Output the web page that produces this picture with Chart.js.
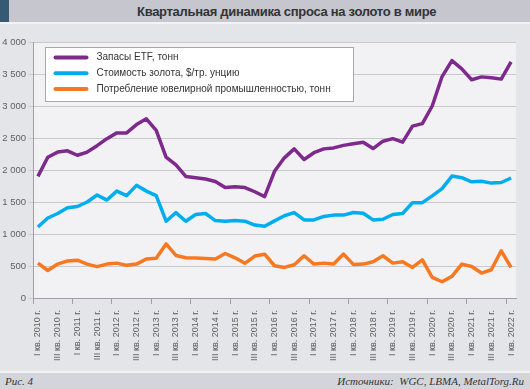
<!DOCTYPE html>
<html>
<head>
<meta charset="utf-8">
<script src="https://cdn.jsdelivr.net/npm/chart.js@4.4.1/dist/chart.umd.min.js"></script>
<style>
  html, body { margin: 0; padding: 0; }
  body { width: 530px; height: 389px; background: #e4e5e9; position: relative; overflow: hidden; font-family: "Liberation Sans", Arial, sans-serif; }
  #head { position: absolute; left: 0; top: 0; width: 530px; height: 22px; background: #c5c6ce; border-bottom: 2px solid #f3f3f5; }
  #head .mark { position: absolute; left: 0; top: 0; width: 9px; height: 22px; background: #365a74; }
  #head .title { position: absolute; left: 137px; top: 4px; font-size: 13px; font-weight: bold; letter-spacing: -0.3px; line-height: 15px; color: #333333; white-space: nowrap; }
  #foot { position: absolute; left: 0; top: 371px; width: 530px; height: 16px; background: #d4d5db; border-top: 2px solid #f3f3f5; font-family: "Liberation Serif", "Times New Roman", serif; font-style: italic; font-size: 11px; color: #333; }
  #foot .left { position: absolute; left: 5px; top: 2px; }
  #foot .right { position: absolute; right: 6px; top: 2px; white-space: nowrap; }
  #chart { position: absolute; left: 0; top: 24px; }
</style>
</head>
<body>
<div id="head"><div class="mark"></div><div class="title">Квартальная динамика спроса на золото в мире</div></div>
<canvas id="chart" width="530" height="347"></canvas>
<div id="foot"><span class="left">Рис. 4</span><span class="right">Источники:&nbsp; WGC, LBMA, MetalTorg.Ru</span></div>
<script>
// Quarters from I 2010 to I 2022
var quarters = [
  'I кв. 2010 г.', 'II кв. 2010 г.', 'III кв. 2010 г.', 'IV кв. 2010 г.',
  'I кв. 2011 г.', 'II кв. 2011 г.', 'III кв. 2011 г.', 'IV кв. 2011 г.',
  'I кв. 2012 г.', 'II кв. 2012 г.', 'III кв. 2012 г.', 'IV кв. 2012 г.',
  'I кв. 2013 г.', 'II кв. 2013 г.', 'III кв. 2013 г.', 'IV кв. 2013 г.',
  'I кв. 2014 г.', 'II кв. 2014 г.', 'III кв. 2014 г.', 'IV кв. 2014 г.',
  'I кв. 2015 г.', 'II кв. 2015 г.', 'III кв. 2015 г.', 'IV кв. 2015 г.',
  'I кв. 2016 г.', 'II кв. 2016 г.', 'III кв. 2016 г.', 'IV кв. 2016 г.',
  'I кв. 2017 г.', 'II кв. 2017 г.', 'III кв. 2017 г.', 'IV кв. 2017 г.',
  'I кв. 2018 г.', 'II кв. 2018 г.', 'III кв. 2018 г.', 'IV кв. 2018 г.',
  'I кв. 2019 г.', 'II кв. 2019 г.', 'III кв. 2019 г.', 'IV кв. 2019 г.',
  'I кв. 2020 г.', 'II кв. 2020 г.', 'III кв. 2020 г.', 'IV кв. 2020 г.',
  'I кв. 2021 г.', 'II кв. 2021 г.', 'III кв. 2021 г.', 'IV кв. 2021 г.',
  'I кв. 2022 г.'
];

var seriesNames = [
  'Запасы ETF, тонн',
  'Стоимость золота, $/тр. унцию',
  'Потребление ювелирной промышленностью, тонн'
];

var etfHoldings = [
  1900, 2200, 2280, 2300, 2230, 2280, 2380, 2490,
  2580, 2580, 2710, 2800, 2620, 2200, 2080, 1900,
  1880, 1860, 1820, 1725, 1740, 1725, 1660, 1585,
  1980, 2190, 2330, 2165, 2270, 2330, 2345, 2385,
  2410, 2435, 2335, 2450, 2490, 2435, 2685, 2725,
  3000, 3460, 3710, 3580, 3410, 3455, 3440, 3420,
  3690
];

var goldPrice = [
  1110, 1250, 1320, 1410, 1430, 1500, 1610, 1530,
  1670, 1600, 1760, 1670, 1600, 1200, 1335, 1200,
  1305, 1320, 1210, 1200, 1210, 1200, 1140, 1120,
  1205, 1285, 1335, 1220, 1220, 1275, 1295, 1295,
  1335, 1325, 1220, 1230, 1305, 1320, 1490, 1490,
  1595, 1710, 1905, 1880, 1815, 1825, 1795, 1805,
  1875
];

var jewelryDemand = [
  545, 430, 530, 580, 590, 530, 490, 530,
  545, 510, 530, 610, 620, 845, 665, 630,
  625, 618, 608, 695, 628, 542, 655, 685,
  504, 478, 519, 660, 530, 545, 530, 686,
  525, 530, 566, 660, 545, 566, 478, 597,
  322, 254, 338, 530, 493, 390, 441, 738,
  478
];

var seriesColors = ['#7d2a8c', '#00aeef', '#f7781f'];

function formatThousands(v) {
  return String(v).replace(/\B(?=(\d{3})+(?!\d))/g, ' ');
}

// light background of the plot area
var plotBg = {
  id: 'plotBg',
  beforeDraw: function(chart) {
    var a = chart.chartArea;
    var ctx = chart.ctx;
    ctx.save();
    ctx.fillStyle = '#f2f2f4';
    ctx.fillRect(a.left, a.top, a.right - a.left, a.bottom - a.top);
    ctx.restore();
  }
};

// framed legend inside the plot
var boxLegend = {
  id: 'boxLegend',
  afterDraw: function(chart) {
    var ctx = chart.ctx;
    var a = chart.chartArea;
    var x = a.left + 12.5;
    var y = a.top + 5;
    var w = 308;
    var h = 54;
    ctx.save();
    ctx.fillStyle = '#ffffff';
    ctx.fillRect(x, y, w, h);
    ctx.strokeStyle = '#a8a8ac';
    ctx.lineWidth = 1;
    ctx.strokeRect(x, y + 0.5, w, h);
    ctx.font = '10px "Liberation Sans", Arial, sans-serif';
    ctx.textBaseline = 'middle';
    var ds = chart.data.datasets;
    for (var i = 0; i < ds.length; i++) {
      var ry = y + 10.5 + i * 15.8;
      ctx.strokeStyle = ds[i].borderColor;
      ctx.lineWidth = 4;
      ctx.lineCap = 'round';
      ctx.beginPath();
      ctx.moveTo(x + 10, ry);
      ctx.lineTo(x + 41, ry);
      ctx.stroke();
      ctx.fillStyle = '#333333';
      ctx.fillText(ds[i].label, x + 51, ry);
    }
    ctx.restore();
  }
};

var datasets = [];
var seriesValues = [etfHoldings, goldPrice, jewelryDemand];
for (var i = 0; i < seriesValues.length; i++) {
  datasets.push({
    label: seriesNames[i],
    data: seriesValues[i],
    borderColor: seriesColors[i],
    backgroundColor: seriesColors[i],
    borderWidth: 3.5,
    borderJoinStyle: 'round',
    pointRadius: 0,
    tension: 0,
    fill: false
  });
}

new Chart(document.getElementById('chart').getContext('2d'), {
  type: 'line',
  data: {
    labels: quarters,
    datasets: datasets
  },
  options: {
    responsive: false,
    animation: false,
    layout: { padding: { top: 18, right: 14, left: 0, bottom: 0 } },
    plugins: {
      legend: { display: false },
      tooltip: { enabled: false }
    },
    scales: {
      x: {
        offset: true,
        grid: {
          offset: true,
          drawOnChartArea: false,
          drawTicks: true,
          tickLength: 6,
          color: function(c) { return c.index % 4 === 0 ? '#a0a0a4' : 'rgba(0,0,0,0)'; }
        },
        border: { color: '#a0a0a4' },
        ticks: {
          autoSkip: false,
          maxRotation: 90,
          minRotation: 90,
          padding: 6,
          color: '#606060',
          font: { family: '"Liberation Sans", Arial, sans-serif', size: 9 },
          callback: function(v, i) { return i % 2 === 0 ? this.getLabelForValue(v) : ''; }
        },
        afterFit: function(s) { s.height = 73; }
      },
      y: {
        min: 0,
        max: 4000,
        ticks: {
          stepSize: 500,
          padding: 3,
          color: '#606060',
          font: { family: '"Liberation Sans", Arial, sans-serif', size: 9.5 },
          callback: function(v) { return formatThousands(v); }
        },
        grid: { color: '#c9c9cd', tickLength: 4 },
        border: { color: '#a0a0a4' },
        afterFit: function(s) { s.width = 33; }
      }
    }
  },
  plugins: [plotBg, boxLegend]
});
</script>
</body>
</html>
